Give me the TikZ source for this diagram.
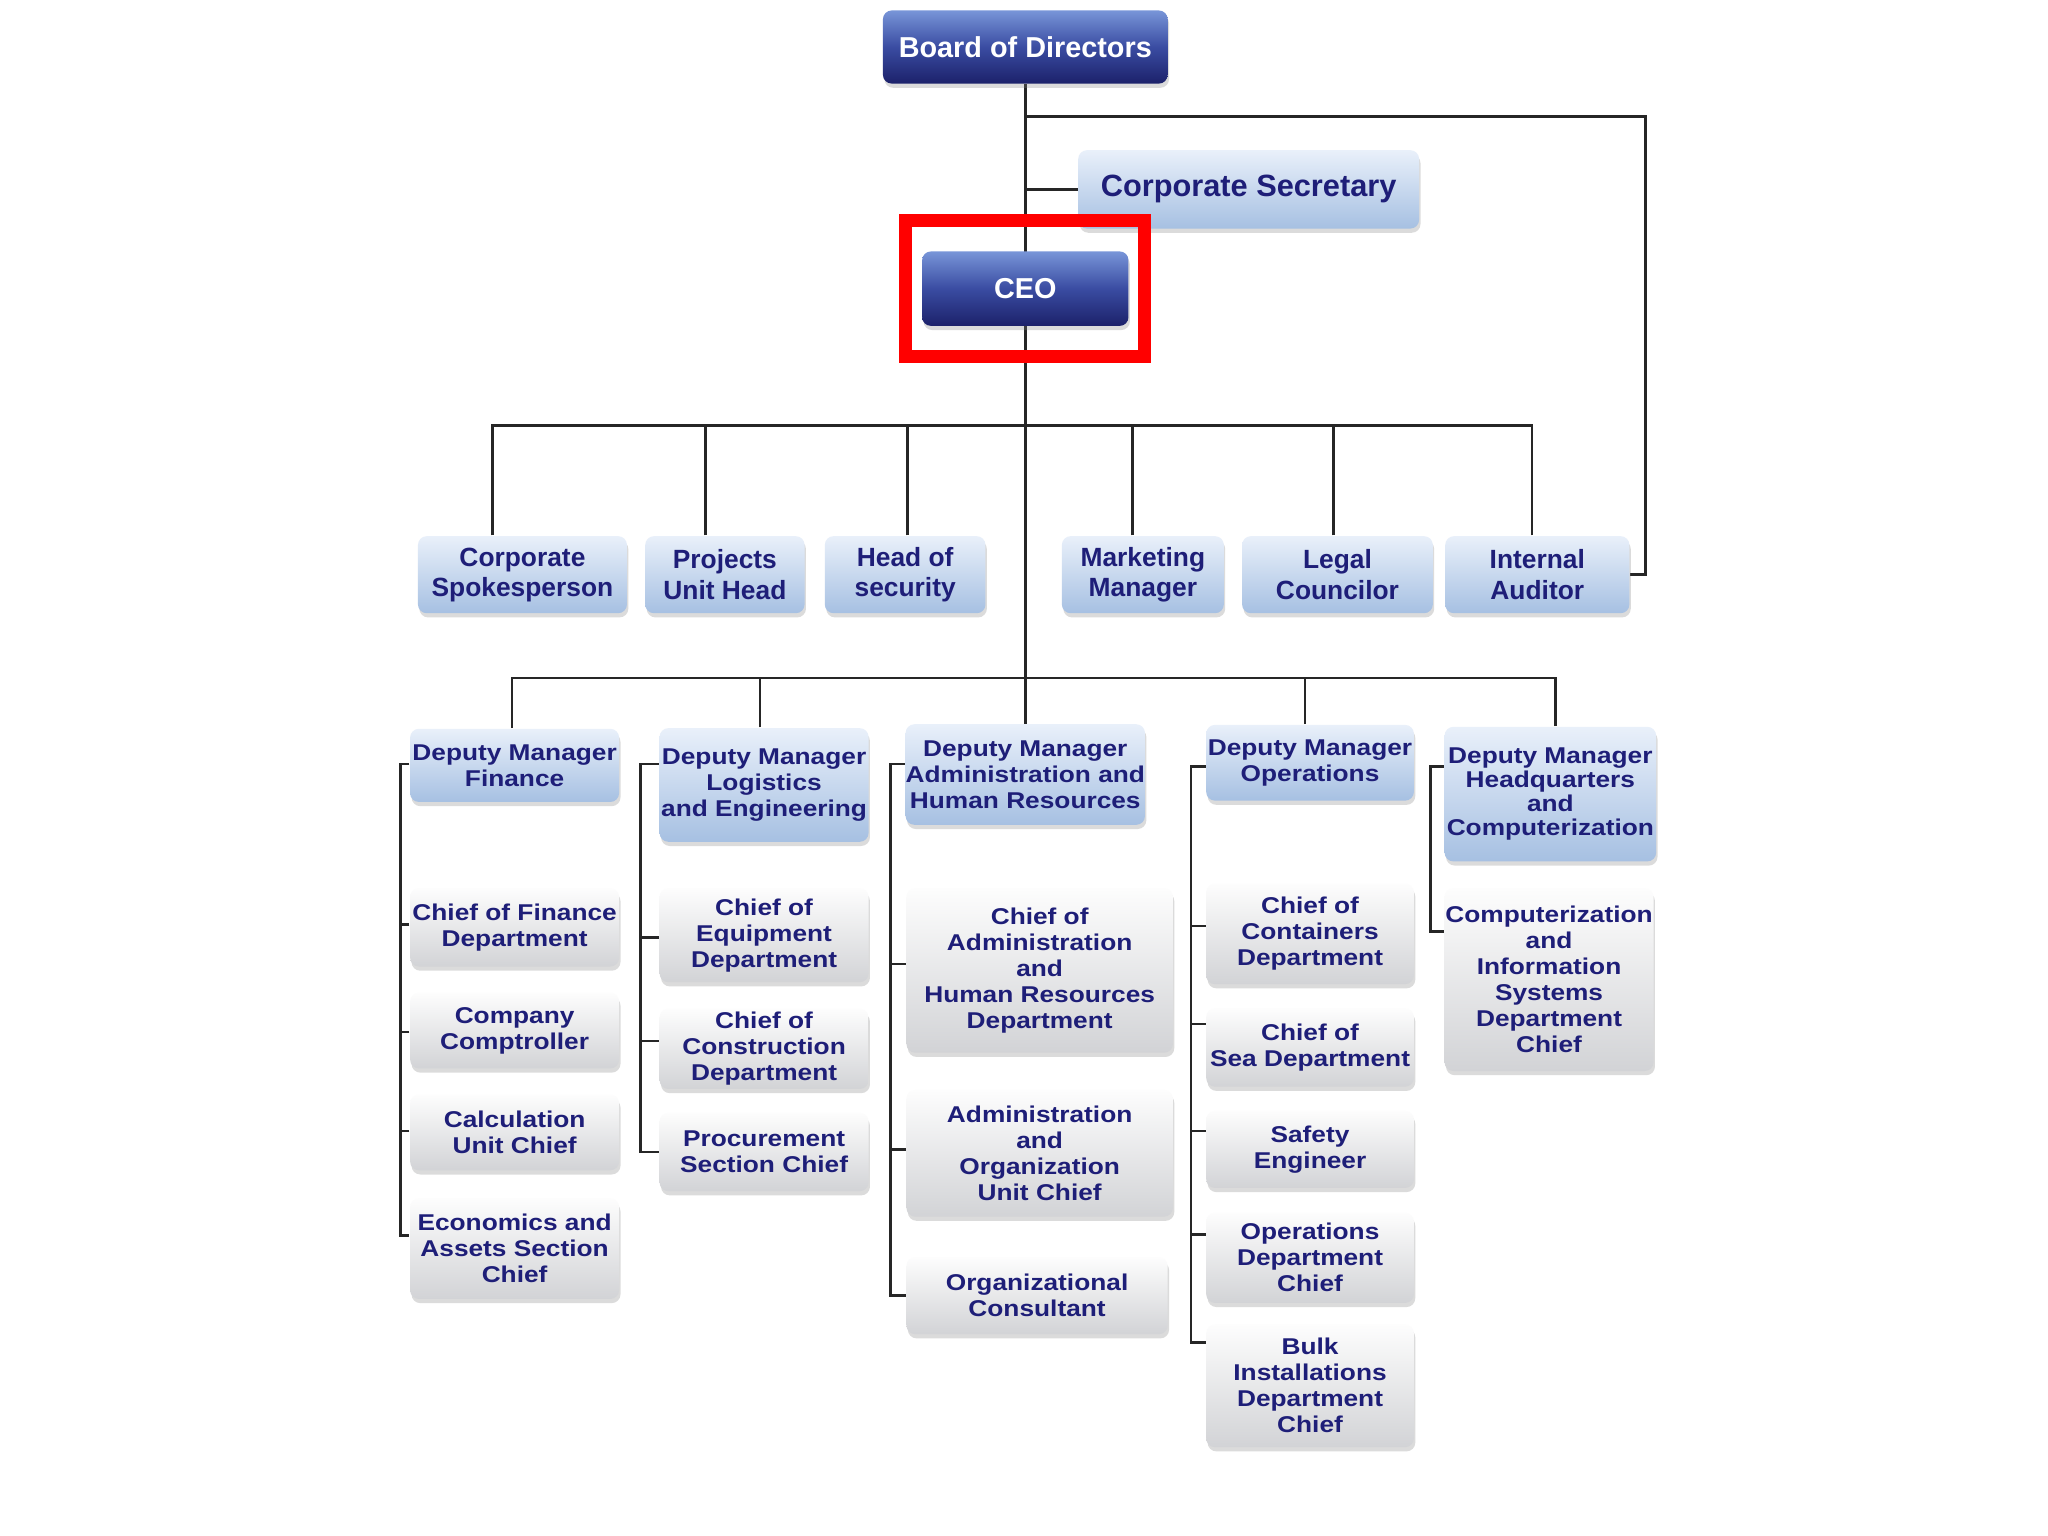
\documentclass[tikz,border=0pt]{standalone}
\usepackage{fontspec}
\usepackage{xcolor}
\usepackage{tikz}
\usetikzlibrary{positioning,backgrounds,calc,fit,shadows}
\newfontfamily\hdfont{Liberation Sans}
\newfontfamily\wdfont{Liberation Sans}[FakeStretch=1.15]
\newcommand{\px}{0.01306cm}
\definecolor{navy}{HTML}{1E1E78}
\definecolor{dtop}{HTML}{7895D8}
\definecolor{dmid}{HTML}{3A4CA2}
\definecolor{dbot}{HTML}{1C216A}
\definecolor{ltop}{HTML}{E9F0FA}
\definecolor{lbot}{HTML}{A6C0E2}
\definecolor{gtop}{HTML}{FDFDFD}
\definecolor{gbot}{HTML}{D2D3D6}
\tikzset{
  obox/.style  ={rounded corners=2.5pt, align=center, inner xsep=0pt, inner ysep=1pt, text=navy,
                 drop shadow={shadow xshift=0.4pt, shadow yshift=-1.2pt, opacity=0.28}},
  dbox/.style  ={obox, top color=dtop, bottom color=dbot, middle color=dmid, text=white,
                 font=\hdfont\bfseries\fontsize{8.2}{9.5}\selectfont},
  lbox/.style  ={obox, top color=ltop, bottom color=lbot, font=\hdfont\bfseries\fontsize{7.5}{8.6}\selectfont},
  dmbox/.style ={obox, top color=ltop, bottom color=lbot, font=\wdfont\bfseries\fontsize{6.5}{7.4}\selectfont},
  gbox/.style  ={obox, top color=gtop, bottom color=gbot, font=\wdfont\bfseries\fontsize{6.5}{7.4}\selectfont},
  wd/.style    ={minimum width=#1*\px},
  ht/.style    ={minimum height=#1*\px},
  ln/.style    ={line width=0.75pt, draw=black!85},
  hlframe/.style={draw=red, line width=10*\px, inner xsep=12*\px, inner ysep=23*\px},
}
\begin{document}
\begin{tikzpicture}[x=0.01306cm, y=-0.01306cm]
  \useasboundingbox (0,0) rectangle (1568,1176);
  % --- top: board, secretary, CEO ---
  \node[dbox, wd=218, ht=56] (board) at (785,36) {Board of Directors};
  \node[lbox, wd=261, ht=60, font=\hdfont\bfseries\fontsize{8.75}{10}\selectfont] (sec) at (956,145) {Corporate Secretary};
  \node[dbox, wd=158, ht=57] (ceo) at (785,221) {CEO};
  \node[hlframe, fit=(ceo)] (ceofr) {};
  % --- staff row ---
  \node[lbox, wd=160, ht=59] (spk)   at (400,440)  {Corporate\\Spokesperson};
  \node[lbox, wd=122, ht=59] (proj)  at (555,440)  {Projects\\Unit Head};
  \node[lbox, wd=123, ht=59] (hsec)  at (693,440)  {Head of\\security};
  \node[lbox, wd=124, ht=59] (mkt)   at (875,440)  {Marketing\\Manager};
  \node[lbox, wd=146, ht=59] (legal) at (1024,440) {Legal\\Councilor};
  \node[lbox, wd=141, ht=59] (aud)   at (1177,440) {Internal\\Auditor};
  % --- deputy managers ---
  \node[dmbox, wd=160, ht=56]  (dmfin) at (394,586)  {Deputy Manager\\Finance};
  \node[dmbox, wd=160, ht=87]  (dmlog) at (585,601)  {Deputy Manager\\Logistics\\and Engineering};
  \node[dmbox, wd=181, ht=77]  (dmadm) at (785,593)  {Deputy Manager\\Administration and\\Human Resources};
  \node[dmbox, wd=159, ht=58]  (dmops) at (1003,584) {Deputy Manager\\Operations};
  \node[dmbox, wd=162, ht=103, font=\wdfont\bfseries\fontsize{6.5}{6.8}\selectfont] (dmhq) at (1187,608) {Deputy Manager\\Headquarters\\and\\Computerization};
  % --- finance ---
  \node[gbox, wd=160, ht=60] (cfin) at (394,710) {Chief of Finance\\Department};
  \node[gbox, wd=160, ht=58] (comp) at (394,789) {Company\\Comptroller};
  \node[gbox, wd=160, ht=58] (calc) at (394,867) {Calculation\\Unit Chief};
  \node[gbox, wd=160, ht=77] (econ) at (394,956) {Economics and\\Assets Section\\Chief};
  % --- logistics ---
  \node[gbox, wd=160, ht=72] (equip)  at (585,716) {Chief of\\Equipment\\Department};
  \node[gbox, wd=160, ht=60] (constr) at (585,803) {Chief of\\Construction\\Department};
  \node[gbox, wd=160, ht=60] (proc)   at (585,882) {Procurement\\Section Chief};
  % --- administration ---
  \node[gbox, wd=204, ht=126] (cadm) at (796,743) {Chief of\\Administration\\and\\Human Resources\\Department};
  \node[gbox, wd=204, ht=97]  (aorg) at (796,883) {Administration\\and\\Organization\\Unit Chief};
  \node[gbox, wd=200, ht=59]  (orgc) at (794,992) {Organizational\\Consultant};
  % --- operations ---
  \node[gbox, wd=159, ht=77] (cont) at (1003,715)  {Chief of\\Containers\\Department};
  \node[gbox, wd=159, ht=60] (sea)  at (1003,802)  {Chief of\\Sea Department};
  \node[gbox, wd=159, ht=59] (safe) at (1003,880)  {Safety\\Engineer};
  \node[gbox, wd=159, ht=69] (opch) at (1003,963)  {Operations\\Department\\Chief};
  \node[gbox, wd=159, ht=94] (bulk) at (1003,1061) {Bulk\\Installations\\Department\\Chief};
  % --- headquarters ---
  \node[gbox, wd=160, ht=140] (cis) at (1186,750) {Computerization\\and\\Information\\Systems\\Department\\Chief};
  \begin{scope}[on background layer]
    \fill[white] (0,0) rectangle (1568,1176);
    \draw[ln] (board.south) -- (dmadm.north);
    \coordinate (tr) at (1260,89);
    \draw[ln] (board.south |- tr) -- (tr) |- (aud.east);
    \draw[ln] (sec.west) -- (sec.west -| board.south);
    \coordinate (bus1) at (785,326);
    \foreach \n/\dx in {spk/-23,proj/-15,hsec/2,mkt/-8,legal/-3,aud/-4}
      \draw[ln] ([xshift=\dx*\px]\n.north) |- (bus1);
    \coordinate (bus2) at (785,519);
    \foreach \n/\dx in {dmfin/-2,dmlog/-3,dmops/-4,dmhq/4}
      \draw[ln] ([xshift=\dx*\px]\n.north) |- (bus2);
    % spines
    \draw[ln] (dmfin.west |- 0,585) -- ++(-7,0) |- (econ.west |- 0,946);
    \foreach \n/\y in {cfin/708,comp/790,calc/866} \draw[ln] (\n.west |- 0,\y) -- ++(-7,0);
    \draw[ln] (dmlog.west |- 0,585) -- ++(-14,0) |- (proc.west |- 0,882);
    \foreach \n/\y in {equip/718,constr/797} \draw[ln] (\n.west |- 0,\y) -- ++(-14,0);
    \draw[ln] (dmadm.west |- 0,585) -- ++(-11,0) |- (orgc.west |- 0,992);
    \foreach \n/\y in {cadm/738,aorg/880} \draw[ln] (\n.west |- 0,\y) -- ++(-11,0);
    \draw[ln] (dmops.west |- 0,587) -- ++(-11,0) |- (bulk.west |- 0,1028);
    \foreach \n/\y in {cont/709,sea/784,safe/866,opch/945} \draw[ln] (\n.west |- 0,\y) -- ++(-11,0);
    \draw[ln] (dmhq.west |- 0,587) -- ++(-10,0) |- (cis.west |- 0,713);
  \end{scope}
\end{tikzpicture}
\end{document}
